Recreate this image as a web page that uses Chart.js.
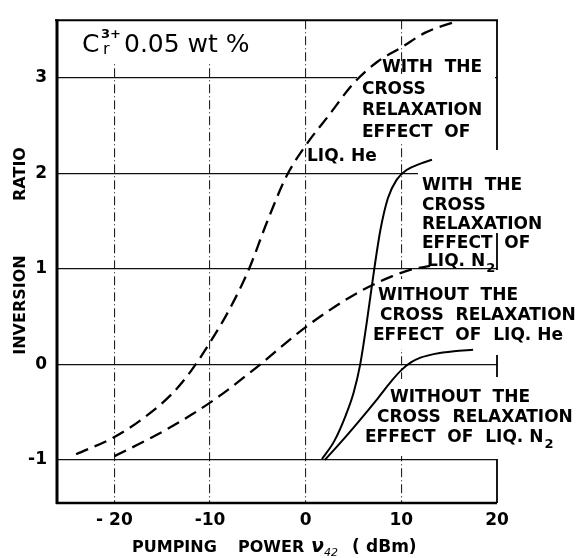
<!DOCTYPE html>
<html>
<head>
<meta charset="utf-8">
<script src="https://cdn.jsdelivr.net/npm/chart.js@4.4.1/dist/chart.umd.min.js"></script>
<style>
    html, body { margin: 0; padding: 0; background: #fff; }
</style>
</head>
<body>
<canvas id="chart" width="583" height="558"></canvas>
<script>
// axis ticks
const xTicks = [-20, -10, 0, 10, 20]
const xTickLabels = ["- 20", "-10", "0", "10", "20"]
const yTicks = [-1, 0, 1, 2, 3]
const yTickLabels = ["-1", "0", "1", "2", "3"]

// with cross relaxation, liq. He (dashed)
const heWithX = [-24, -20, -17, -14, -12, -10, -8, -6, -4, -2, 0, 2.5, 5, 7.5, 10, 12.5, 15.8]
const heWithY = [-0.94, -0.76, -0.565, -0.31, -0.07, 0.23, 0.57, 0.98, 1.5, 1.97, 2.29, 2.615, 2.94, 3.165, 3.315, 3.47, 3.59]

// without cross relaxation, liq. He (dashed)
const heWithoutX = [-20, -16, -12, -9, -6, -4.5, -2, 0, 3, 6, 9, 11, 13]
const heWithoutY = [-0.96, -0.76, -0.53, -0.33, -0.1, 0.02, 0.23, 0.39, 0.6, 0.78, 0.92, 0.99, 1.03]

// with cross relaxation, liq. N2 (solid)
const n2WithX = [1.7, 3.0, 4.2, 5.0, 5.7, 6.4, 7.1, 7.8, 8.6, 9.5, 10.5, 12, 13.2]
const n2WithY = [-0.99, -0.8, -0.53, -0.3, 0, 0.45, 0.95, 1.4, 1.74, 1.93, 2.03, 2.1, 2.14]

// without cross relaxation, liq. N2 (solid)
const n2WithoutX = [2.0, 3.8, 5.6, 7.5, 9, 10, 11, 12, 13.5, 15.5, 17.5]
const n2WithoutY = [-1.0, -0.8, -0.59, -0.36, -0.17, -0.06, 0.02, 0.07, 0.11, 0.138, 0.153]

// curve labels ("_" starts a subscript)
const noteHeWith = ["WITH  THE", "CROSS", "RELAXATION", "EFFECT  OF", "LIQ. He"]
const noteN2With = ["WITH  THE", "CROSS", "RELAXATION", "EFFECT  OF", "LIQ. N_2"]
const noteHeWithout = ["WITHOUT  THE", "CROSS  RELAXATION", "EFFECT  OF  LIQ. He"]
const noteN2Without = ["WITHOUT  THE", "CROSS  RELAXATION", "EFFECT  OF  LIQ. N_2"]

const FONT = '"DejaVu Sans", "Liberation Sans", sans-serif'

const toPoints = (xs, ys) => xs.map((x, i) => ({ x, y: ys[i] }))

const drawRich = (ctx, text, x, y, size) => {
    const [main, sub] = text.split("_")
    ctx.font = `bold ${size}px ${FONT}`
    ctx.fillText(main, x, y)
    if (sub) {
        const w = ctx.measureText(main).width
        ctx.font = `bold ${Math.round(size * 0.75)}px ${FONT}`
        ctx.fillText(sub, x + w + 1, y + 6)
    }
}

const paperPlugin = {
    id: "paper",
    beforeDatasetsDraw(chart) {
        const ctx = chart.ctx
        const { left, right, top, bottom } = chart.chartArea
        ctx.save()
        // white patches under the lettering
        ctx.fillStyle = "#fff"
        const erase = [
            [66, 16, 262, 62],
            [357, 74, 495, 142],
            [418, 167, 583, 262],
            [365, 279, 583, 349],
            [358, 379, 583, 456],
        ]
        erase.forEach(([x0, y0, x1, y1]) => ctx.fillRect(x0, y0, x1 - x0, y1 - y0))

        ctx.strokeStyle = "#000"
        ctx.lineCap = "butt"
        ctx.lineWidth = 3
        ctx.beginPath()
        ctx.moveTo(left, top - 1)
        ctx.lineTo(left, bottom + 1)
        ctx.stroke()
        ctx.lineWidth = 2.5
        ctx.beginPath()
        ctx.moveTo(left - 1, bottom)
        ctx.lineTo(right, bottom)
        ctx.stroke()
        ctx.lineWidth = 2
        ctx.beginPath()
        ctx.moveTo(left - 2, top)
        ctx.lineTo(right + 1, top)
        ctx.stroke()
        ctx.lineWidth = 1.8
        const rightSegs = [[top, 150], [233, 270], [355, 377], [459, bottom]]
        rightSegs.forEach(([a, b]) => {
            ctx.beginPath()
            ctx.moveTo(right, a)
            ctx.lineTo(right, b)
            ctx.stroke()
        })
        ctx.restore()
    },
    afterDatasetsDraw(chart) {
        const ctx = chart.ctx
        ctx.save()
        ctx.fillStyle = "#000"
        ctx.textAlign = "left"
        ctx.textBaseline = "alphabetic"

        // title
        ctx.font = `25px ${FONT}`
        ctx.fillText("C", 82, 52)
        ctx.font = `bold 13px ${FONT}`
        ctx.fillText("3+", 101, 38)
        ctx.font = `16px ${FONT}`
        ctx.fillText("r", 103, 54)
        ctx.font = `25px ${FONT}`
        ctx.fillText("0.05 wt %", 124, 52)

        const blocks = [
            [noteHeWith, [[382, 72], [362, 94], [362, 115], [362, 137], [307, 161]]],
            [noteN2With, [[422, 190], [422, 210], [422, 229], [422, 248], [427, 266]]],
            [noteHeWithout, [[378, 300], [380, 320], [373, 340]]],
            [noteN2Without, [[390, 402], [377, 422], [365, 442]]],
        ]
        blocks.forEach(([lines, pos]) => {
            lines.forEach((t, i) => drawRich(ctx, t, pos[i][0], pos[i][1], 17))
        })
        ctx.restore()
    },
    afterDraw(chart) {
        const ctx = chart.ctx
        ctx.save()
        ctx.fillStyle = "#000"
        ctx.textBaseline = "alphabetic"

        // y axis title, two spaced words
        ctx.translate(25, 0)
        ctx.rotate(-Math.PI / 2)
        ctx.textAlign = "center"
        ctx.font = `bold 16px ${FONT}`
        ctx.fillText("INVERSION", -305, 0)
        ctx.fillText("RATIO", -174, 0)
        ctx.setTransform(1, 0, 0, 1, 0, 0)

        // x axis title
        const dpr = chart.currentDevicePixelRatio
        ctx.setTransform(dpr, 0, 0, dpr, 0, 0)
        ctx.textAlign = "left"
        ctx.font = `bold 16px ${FONT}`
        ctx.fillText("PUMPING", 132, 552)
        ctx.fillText("POWER", 238, 552)
        ctx.font = `italic bold 19px ${FONT}`
        ctx.fillText("\u03bd", 311, 552)
        ctx.font = `italic 11px ${FONT}`
        ctx.fillText("42", 324, 556)
        ctx.font = `bold 17px ${FONT}`
        ctx.fillText("(", 352, 552)
        ctx.fillText("dBm)", 366, 552)
        ctx.restore()
    },
}

const tickFont = { family: FONT, size: 17, weight: "bold" }

new Chart(document.getElementById("chart"), {
    type: "scatter",
    data: {
        datasets: [
            { label: "with CR, He", data: toPoints(heWithX, heWithY), borderDash: [13, 7] },
            { label: "without CR, He", data: toPoints(heWithoutX, heWithoutY), borderDash: [13, 7] },
            { label: "with CR, N2", data: toPoints(n2WithX, n2WithY), borderWidth: 2 },
            { label: "without CR, N2", data: toPoints(n2WithoutX, n2WithoutY), borderWidth: 2 },
        ].map((ds) => ({
            showLine: true,
            borderColor: "#000",
            borderWidth: 2.3,
            pointRadius: 0,
            cubicInterpolationMode: "monotone",
            ...ds,
        })),
    },
    plugins: [paperPlugin],
    options: {
        responsive: false,
        animation: false,
        layout: { padding: { top: 14, right: 86, left: 0, bottom: 0 } },
        plugins: {
            legend: { display: false },
            tooltip: { enabled: false },
        },
        scales: {
            x: {
                type: "linear",
                min: -26,
                max: 20,
                afterBuildTicks: (scale) => {
                    scale.ticks = xTicks.map((value) => ({ value }))
                },
                afterFit: (scale) => {
                    scale.height = 55
                },
                ticks: {
                    font: tickFont,
                    color: "#000",
                    padding: 7,
                    maxRotation: 0,
                    autoSkip: false,
                    callback: (value) => xTickLabels[xTicks.indexOf(value)],
                },
                grid: {
                    drawTicks: false,
                    lineWidth: 1.1,
                    color: (ctx) => (ctx.tick && ctx.tick.value === 20 ? "rgba(0,0,0,0)" : "#222"),
                },
                border: { display: false, dash: [9, 3, 1, 3] },
            },
            y: {
                type: "linear",
                min: -1.45,
                max: 3.6,
                afterBuildTicks: (scale) => {
                    scale.ticks = yTicks.map((value) => ({ value }))
                },
                afterFit: (scale) => {
                    scale.width = 57
                },
                ticks: {
                    font: tickFont,
                    color: "#000",
                    padding: 10,
                    autoSkip: false,
                    callback: (value) => yTickLabels[yTicks.indexOf(value)],
                },
                grid: {
                    drawTicks: false,
                    lineWidth: 1.3,
                    color: "#111",
                },
                border: { display: false },
            },
        },
    },
})
</script>
</body>
</html>
